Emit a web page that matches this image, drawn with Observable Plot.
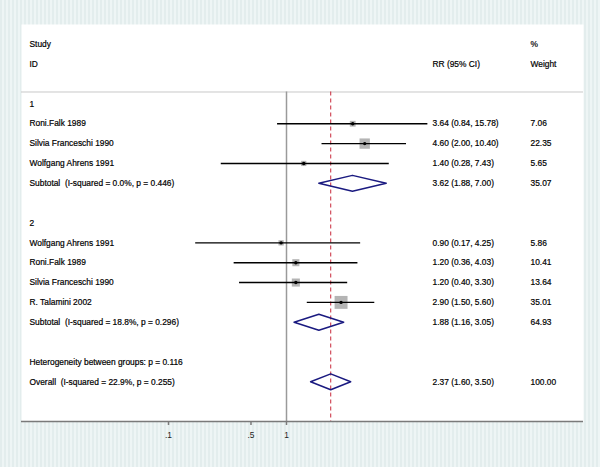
<!DOCTYPE html>
<html>
<head>
<meta charset="utf-8">
<script src="https://cdn.jsdelivr.net/npm/d3@7"></script>
<script src="https://cdn.jsdelivr.net/npm/@observablehq/plot@0.6"></script>
<style>
  html, body { margin: 0; padding: 0; background: #e8f1f1; }
</style>
</head>
<body>
<div id="chart"></div>
<script>
// ---- data ----
const rowLabels = [
  "1",
  "Roni.Falk 1989",
  "Silvia Franceschi 1990",
  "Wolfgang Ahrens 1991",
  "Subtotal  (I-squared = 0.0%, p = 0.446)",
  "",
  "2",
  "Wolfgang Ahrens 1991",
  "Roni.Falk 1989",
  "Silvia Franceschi 1990",
  "R. Talamini 2002",
  "Subtotal  (I-squared = 18.8%, p = 0.296)",
  "",
  "Heterogeneity between groups: p = 0.116",
  "Overall  (I-squared = 22.9%, p = 0.255)"
];

const studyRows = [1, 2, 3, 7, 8, 9, 10];
const studyRR   = [3.64, 4.60, 1.40, 0.90, 1.20, 1.20, 2.90];
const studyLo   = [0.84, 2.00, 0.28, 0.17, 0.36, 0.40, 1.50];
const studyHi   = [15.78, 10.40, 7.43, 4.25, 4.03, 3.30, 5.60];
const studyW    = [7.06, 22.35, 5.65, 5.86, 10.41, 13.64, 35.01];

const pooledRows = [4, 11, 14];
const pooledRR   = [3.62, 1.88, 2.37];
const pooledLo   = [1.88, 1.16, 1.60];
const pooledHi   = [7.00, 3.05, 3.50];
const pooledW    = [35.07, 64.93, 100.00];

const headerLeft  = ["Study", "ID"];
const headerRR    = ["", "RR (95% CI)"];
const headerW     = ["%", "Weight"];

const xTicks = [0.1, 0.5, 1];

// ---- derived tables ----
const studies = studyRows.map((r, i) => ({row: r, rr: studyRR[i], lo: studyLo[i], hi: studyHi[i], w: studyW[i]}));
const pooled = pooledRows.map((r, i) => ({row: r, rr: pooledRR[i], lo: pooledLo[i], hi: pooledHi[i], w: pooledW[i]}));
const overall = pooled[pooled.length - 1];
const fmt = v => v.toFixed(2);
const allEst = [...studies, ...pooled].map(d => ({...d, ci: `${fmt(d.rr)} (${fmt(d.lo)}, ${fmt(d.hi)})`, wt: fmt(d.w)}));
const labels = rowLabels.map((t, i) => ({row: i, t}));
const headers = [-3, -2].map((r, i) => ({row: r, left: headerLeft[i], rr: headerRR[i], w: headerW[i]}));

const dh = 0.4; // diamond half-height in rows
const diamonds = pooled.flatMap((d, k) => [
  {k, x: d.lo, y: d.row},
  {k, x: d.rr, y: d.row - dh},
  {k, x: d.hi, y: d.row},
  {k, x: d.rr, y: d.row + dh},
  {k, x: d.lo, y: d.row}
]);

const font = "'Liberation Sans', Arial, Helvetica, sans-serif";
const fs = 8.4;
const sepRow = -0.6;
const axisRow = 16;
const txt = {frameAnchor: "left", textAnchor: "start", fill: "#000", stroke: "#000", strokeWidth: 0.2, fontSize: fs};

const chart = Plot.plot({
  width: 600,
  height: 467,
  marginLeft: 21,
  marginRight: 17,
  marginTop: 24,
  marginBottom: 46,
  style: {
    fontFamily: font,
    fontSize: fs + "px",
    color: "#111",
    background: "repeating-linear-gradient(90deg, #e3eded 0px, #e3eded 2px, #eef5f5 2px, #eef5f5 4px)"
  },
  x: {type: "log", domain: [0.1, 1], range: [168, 286], axis: null},
  y: {domain: [-4, 16], range: [24, 421], axis: null},
  r: {type: "sqrt", domain: [0, 35.01], range: [0, 7.3]},
  marks: [
    Plot.frame({fill: "white", stroke: "none"}),
    // header separator
    Plot.ruleY([sepRow], {stroke: "#c8c8c8", strokeWidth: 1}),
    // null line at 1
    Plot.ruleX([1], {y1: sepRow, y2: axisRow, stroke: "#9a9a9a", strokeWidth: 1.5}),
    // overall dashed line
    Plot.ruleX([overall], {x: "rr", y1: sepRow, y2: axisRow, stroke: "#c8283a", strokeWidth: 1, strokeDasharray: "4,3"}),
    // weight boxes
    Plot.dot(studies, {x: "rr", y: "row", r: "w", symbol: "square", fill: "#b4b4b4", stroke: "none"}),
    // CI lines
    Plot.ruleY(studies, {y: "row", x1: "lo", x2: "hi", stroke: "#000", strokeWidth: 1.4}),
    // center points
    Plot.dot(studies, {x: "rr", y: "row", r: 1.7, fill: "#000", stroke: "none"}),
    // diamonds
    Plot.line(diamonds, {x: "x", y: "y", z: "k", stroke: "#1a1a80", strokeWidth: 1.5, curve: "linear"}),
    // axis line
    Plot.ruleY([axisRow], {stroke: "#7a7a7a", strokeWidth: 1.5}),
    Plot.axisX({ticks: xTicks, tickSize: 4, tickPadding: 7, stroke: "#7a7a7a", strokeWidth: 1.5,
      tickFormat: d => String(d).replace(/^0\./, "."), fontSize: fs, fill: "#222"}),
    // left labels
    Plot.text(labels, {...txt, y: "row", text: "t", dx: 8}),
    Plot.text(headers, {...txt, y: "row", text: "left", dx: 8}),
    // RR column
    Plot.text(allEst, {...txt, y: "row", text: "ci", dx: 411}),
    Plot.text(headers, {...txt, y: "row", text: "rr", dx: 411}),
    // weight column
    Plot.text(allEst, {...txt, y: "row", text: "wt", dx: 509}),
    Plot.text(headers, {...txt, y: "row", text: "w", dx: 509})
  ]
});
document.getElementById("chart").appendChild(chart);
</script>
</body>
</html>
